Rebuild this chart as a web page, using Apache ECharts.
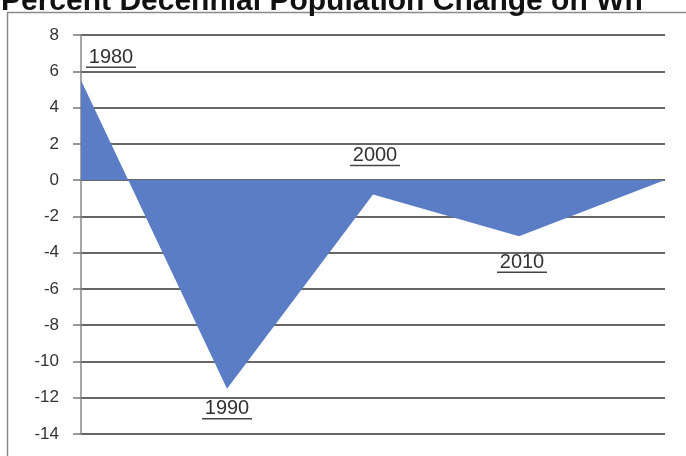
<!DOCTYPE html>
<html>
<head>
<meta charset="utf-8">
<script src="https://cdn.jsdelivr.net/npm/echarts@6/dist/echarts.min.js"></script>
<style>
html,body{margin:0;padding:0;background:#fff;}
#c{width:686px;height:456px;}
</style>
</head>
<body>
<div id="c"></div>
<script>
const titleText = 'Percent Decennial Population Change on Wh';
const categories = ['1980', '1990', '2000', '2010', '2020'];
const values = [5.5, -11.5, -0.8, -3.1, 0];
const yTicks = [-14, -12, -10, -8, -6, -4, -2, 0, 2, 4, 6, 8];
const labelShown = [true, true, true, true, false];

// label placement (layout only)
const labelOffsets = [[30, -22], [0, 21], [2, -38], [3, 27], [0, 0]];

const chart = echarts.init(document.getElementById('c'));
const seriesData = values.map((v, i) => ({
  value: v,
  label: {
    show: labelShown[i],
    position: 'inside',
    offset: labelOffsets[i],
    formatter: '{t|' + categories[i] + '}\n{u|}',
    rich: {
      t: {fontFamily: 'Liberation Sans', fontSize: 20, color: '#333', lineHeight: 18, align: 'center'},
      u: {width: 50, height: 1.5, backgroundColor: '#444', align: 'center'}
    }
  }
}));

chart.setOption({
  animation: false,
  backgroundColor: '#fff',
  title: {
    text: titleText,
    left: -4,
    top: -18,
    textStyle: {fontFamily: 'Liberation Sans', fontWeight: 'bold', fontSize: 30, color: '#111'}
  },
  graphic: [{
    type: 'rect',
    shape: {x: 7.5, y: 12.5, width: 720, height: 480},
    style: {fill: 'none', stroke: '#8a8a8a', lineWidth: 1.5},
    z: -1
  }],
  grid: {left: 81, right: 21, top: 35, bottom: 22},
  xAxis: {
    type: 'category',
    data: categories,
    boundaryGap: false,
    axisLine: {show: false},
    axisTick: {show: false},
    axisLabel: {show: false},
    splitLine: {show: false}
  },
  yAxis: {
    type: 'value',
    min: yTicks[0],
    max: yTicks[yTicks.length - 1],
    interval: 2,
    axisLine: {show: true, onZero: false, lineStyle: {color: '#888', width: 1.5}},
    axisTick: {show: true, length: 8, lineStyle: {color: '#777', width: 1.5}},
    axisLabel: {margin: 22, fontFamily: 'Liberation Sans', fontSize: 17, color: '#333'},
    splitLine: {show: true, lineStyle: {color: '#666', width: 1.8}}
  },
  series: [{
    type: 'line',
    data: seriesData,
    symbol: 'circle',
    symbolSize: 0,
    showSymbol: true,
    label: {show: true},
    lineStyle: {width: 0, color: '#5779c4'},
    itemStyle: {color: '#5779c4'},
    areaStyle: {color: '#5a7dc6', opacity: 1},
    z: 3
  }]
});
</script>
</body>
</html>
